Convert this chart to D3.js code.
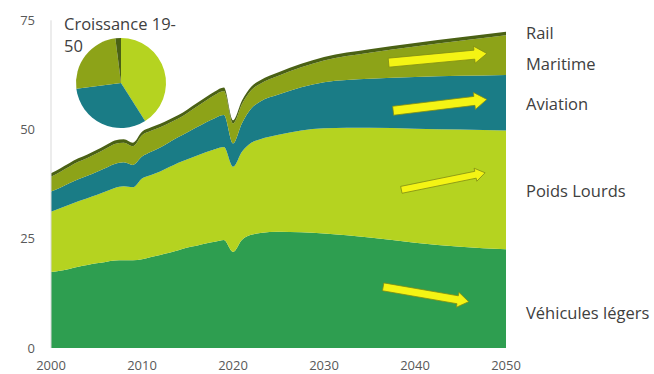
<!DOCTYPE html>
<head>
    <meta charset="utf-8">
    <title>Transport - croissance</title>
    <style>
        body { margin: 0; background: #fff; }
        svg { display: block; font-family: "Open Sans", "Noto Sans", sans-serif; }
    </style>
</head>
<body>

<svg width="654" height="374"></svg>

<script src="https://d3js.org/d3.v7.min.js"></script>

<script>

    // data
    const years = [2000, 2001, 2002, 2003, 2004, 2005, 2006, 2007, 2008, 2009,
                   2010, 2011, 2012, 2013, 2014, 2015, 2016, 2017, 2018, 2019,
                   2020, 2021, 2022, 2023, 2025, 2030, 2035, 2040, 2045, 2050];
    const vehiculesLegers = [17.4, 17.7, 18.1, 18.6, 19.0, 19.4, 19.7, 20.0, 20.1, 20.1,
                             20.3, 20.8, 21.3, 21.8, 22.4, 23.0, 23.4, 23.9, 24.3, 24.7,
                             22.0, 24.8, 25.9, 26.3, 26.6, 26.2, 25.3, 24.1, 23.2, 22.6];
    const poidsLourds = [13.8, 14.3, 14.7, 15.0, 15.3, 15.6, 16.1, 16.6, 16.9, 16.7,
                         18.5, 18.8, 19.1, 19.6, 20.0, 20.2, 20.6, 20.9, 21.2, 21.3,
                         19.5, 20.2, 21.1, 21.5, 22.2, 24.1, 25.1, 26.1, 26.8, 27.2];
    const aviation = [4.6, 4.7, 4.9, 5.0, 5.1, 5.3, 5.4, 5.5, 5.5, 5.1,
                      5.0, 5.3, 5.5, 5.7, 5.9, 6.2, 6.5, 6.8, 7.1, 7.3,
                      5.3, 6.5, 7.8, 8.6, 9.2, 10.5, 11.2, 11.8, 12.3, 12.7];
    const maritime = [3.4, 3.6, 3.8, 4.0, 4.1, 4.2, 4.4, 4.6, 4.5, 4.3,
                      4.9, 4.8, 4.6, 4.4, 4.2, 4.4, 4.7, 5.0, 5.3, 5.5,
                      4.6, 4.4, 4.2, 4.1, 4.3, 5.0, 6.0, 7.0, 8.0, 9.1];
    const rail = [0.8, 0.8, 0.8, 0.8, 0.8, 0.8, 0.8, 0.8, 0.8, 0.8,
                  0.8, 0.8, 0.8, 0.8, 0.8, 0.8, 0.8, 0.8, 0.8, 0.8,
                  0.7, 0.8, 0.8, 0.8, 0.8, 0.8, 0.8, 0.8, 0.8, 0.8];

    const seriesNames = ["Véhicules légers", "Poids Lourds", "Aviation", "Maritime", "Rail"];
    const yTicks = [0, 25, 50, 75];
    const xTicks = [2000, 2010, 2020, 2030, 2040, 2050];

    // pie "Croissance 19-50" (shares, clockwise from the top)
    const pieNames = ["Poids Lourds", "Aviation", "Maritime", "Rail"];
    const pieShares = [41, 32, 25, 2];

    // yellow arrows, [year, value] start and end
    const arrowStarts = [[2037.1, 65.3], [2037.6, 54.3], [2038.5, 36.2], [2036.5, 14.0]];
    const arrowEnds = [[2047.9, 67.4], [2047.9, 56.9], [2047.7, 40.1], [2045.9, 10.6]];
    const arrowWidths = [9, 9, 7, 8];

    const colors = {
        "Véhicules légers": "#2e9e50",
        "Poids Lourds": "#b5d320",
        "Aviation": "#1a7c86",
        "Maritime": "#8da318",
        "Rail": "#4a6114"
    };

    const svg = d3.select("svg");

    const x = d3.scaleLinear().domain([2000, 2050]).range([51, 506]);
    const y = d3.scaleLinear().domain([0, 75]).range([348, 20.3]);

    // table for the stack
    const table = years.map((yr, i) => ({
        year: yr,
        "Véhicules légers": vehiculesLegers[i],
        "Poids Lourds": poidsLourds[i],
        "Aviation": aviation[i],
        "Maritime": maritime[i],
        "Rail": rail[i]
    }));

    const stacked = d3.stack().keys(seriesNames)(table);

    const area = d3.area()
        .x(d => x(d.data.year))
        .y0(d => y(d[0]))
        .y1(d => y(d[1]))
        .curve(d3.curveMonotoneX);

    svg.append("g")
        .selectAll("path")
        .data(stacked)
        .enter().append("path")
            .attr("d", area)
            .attr("fill", d => colors[d.key]);

    // vertical axis line
    svg.append("line")
        .attr("x1", x(2000)).attr("x2", x(2000))
        .attr("y1", y(75)).attr("y2", y(0))
        .attr("stroke", "#d9d9d9")
        .attr("stroke-width", 1);

    // y tick labels
    svg.append("g")
        .selectAll("text")
        .data(yTicks)
        .enter().append("text")
            .attr("x", 35)
            .attr("y", d => y(d))
            .attr("dy", "0.35em")
            .attr("text-anchor", "end")
            .attr("font-size", 13)
            .attr("fill", "#595959")
            .text(d => d);

    // x tick labels
    svg.append("g")
        .selectAll("text")
        .data(xTicks)
        .enter().append("text")
            .attr("x", d => x(d))
            .attr("y", 365)
            .attr("dy", "0.35em")
            .attr("text-anchor", "middle")
            .attr("font-size", 13)
            .attr("fill", "#595959")
            .text(d => d);

    // series labels on the right
    const labelY = { "Rail": 33, "Maritime": 64, "Aviation": 104, "Poids Lourds": 191, "Véhicules légers": 313 };
    svg.append("g")
        .selectAll("text")
        .data(seriesNames)
        .enter().append("text")
            .attr("x", 526)
            .attr("y", d => labelY[d])
            .attr("dy", "0.35em")
            .attr("font-size", 16.5)
            .attr("fill", "#404040")
            .text(d => d);

    // arrows
    function arrowPath(p0, p1, w) {
        const dx = p1[0] - p0[0], dy = p1[1] - p0[1];
        const len = Math.hypot(dx, dy);
        const ux = dx / len, uy = dy / len;
        const nx = -uy, ny = ux;
        const headLen = w * 1.4, headW = w * 0.95;
        const bx = p1[0] - ux * headLen, by = p1[1] - uy * headLen;
        const pts = [
            [p0[0] + nx * w / 2, p0[1] + ny * w / 2],
            [bx + nx * w / 2, by + ny * w / 2],
            [bx + nx * headW, by + ny * headW],
            [p1[0], p1[1]],
            [bx - nx * headW, by - ny * headW],
            [bx - nx * w / 2, by - ny * w / 2],
            [p0[0] - nx * w / 2, p0[1] - ny * w / 2]
        ];
        return "M" + pts.map(p => p.join(",")).join("L") + "Z";
    }

    svg.append("g")
        .selectAll("path")
        .data(arrowStarts)
        .enter().append("path")
            .attr("d", (d, i) => arrowPath(
                [x(d[0]), y(d[1])],
                [x(arrowEnds[i][0]), y(arrowEnds[i][1])],
                arrowWidths[i]))
            .attr("fill", "#f4f414")
            .attr("stroke", "#7f8c14")
            .attr("stroke-width", 0.8);

    // pie
    const pieCx = 121, pieCy = 83, pieR = 45;
    const pie = d3.pie().sort(null).value(d => d);
    const arc = d3.arc().innerRadius(0).outerRadius(pieR);

    const pieG = svg.append("g")
        .attr("transform", "translate(" + pieCx + "," + pieCy + ")");

    pieG.append("circle")
        .attr("r", pieR + 1.5)
        .attr("fill", "#fff");

    pieG.selectAll("path")
        .data(pie(pieShares))
        .enter().append("path")
            .attr("d", arc)
            .attr("fill", (d, i) => colors[pieNames[i]]);

    const title = svg.append("text")
        .attr("font-size", 16.5)
        .attr("fill", "#404040");
    title.append("tspan").attr("x", 64).attr("y", 30).text("Croissance 19-");
    title.append("tspan").attr("x", 64).attr("y", 52).text("50");

</script>

</body>
